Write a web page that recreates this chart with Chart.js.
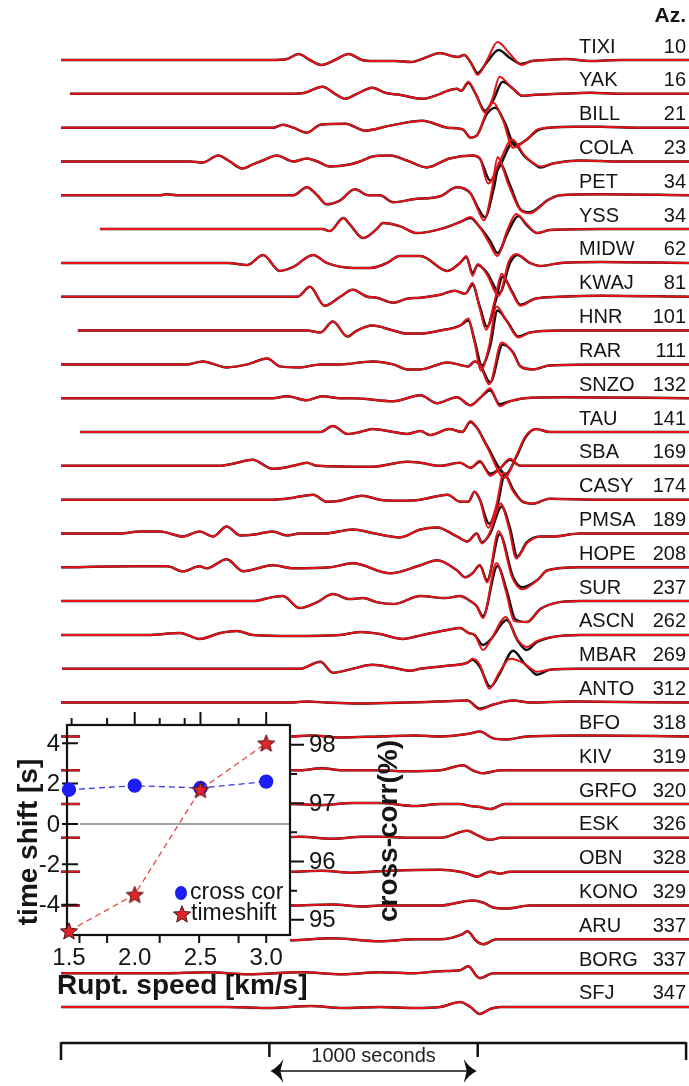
<!DOCTYPE html>
<html><head><meta charset="utf-8">
<script src="https://cdn.jsdelivr.net/npm/chart.js@4.4.0/dist/chart.umd.min.js"></script>
<style>
html,body{margin:0;padding:0;background:#fff;}
#wrap{position:relative;width:689px;height:1086px;overflow:hidden;background:#fff;}
#main{position:absolute;left:0;top:0;}
#inset{position:absolute;left:0;top:700px;}
</style></head><body>
<div id="wrap"><canvas id="main" width="689" height="1086"></canvas><canvas id="inset" width="420" height="310"></canvas></div>
<script>
// ---------------- DATA ----------------
const stations = ["TIXI","YAK","BILL","COLA","PET","YSS","MIDW","KWAJ","HNR","RAR","SNZO","TAU","SBA","CASY","PMSA","HOPE","SUR","ASCN","MBAR","ANTO","BFO","KIV","GRFO","ESK","OBN","KONO","ARU","BORG","SFJ"];
const azimuths = [10,16,21,23,34,34,62,81,101,111,132,141,169,174,189,208,237,262,269,312,318,319,320,326,328,329,337,337,347];
const scaleTicks = [0,1000,2000,3000]; // seconds

// observed (black) traces: [time s, amplitude]
const TIXI_obs=[[0,0],[1005,0],[1085,1],[1140,6],[1195,0],[1250,-5],[1315,0],[1380,6],[1445,0],[1500,-1],[1605,-1],[1680,-2],[1745,2],[1820,7],[1875,4],[1905,3],[1935,5],[1965,-2],[2000,-13],[2045,-2],[2100,10],[2155,2],[2210,-4],[2260,-1],[2325,0],[2420,1],[2540,-1],[2685,0],[3014,0]];
const YAK_obs=[[43,0],[1100,0],[1170,1],[1255,7],[1315,0],[1365,-5],[1420,0],[1495,6],[1555,1],[1625,-1],[1735,-5],[1820,0],[1855,3],[1900,5],[1920,3],[1955,11],[1990,0],[2035,-17],[2075,-6],[2120,12],[2170,5],[2215,-2],[2275,-1],[2395,0],[2540,1],[2685,0],[3014,0]];
const BILL_obs=[[0,0],[1020,0],[1065,3],[1115,0],[1180,-5],[1245,3],[1365,4],[1460,-3],[1580,2],[1735,7],[1855,0],[1930,-2],[1965,-10],[1995,-8],[2045,14],[2085,20],[2130,5],[2180,-18],[2235,-12],[2285,-3],[2345,0],[2470,1],[2590,1],[2780,0],[3014,0]];
const COLA_obs=[[0,0],[620,0],[680,-1],[755,6],[810,0],[870,-7],[920,-3],[980,2],[1035,6],[1115,0],[1180,3],[1230,0],[1290,-5],[1385,-3],[1435,0],[1495,5],[1580,6],[1660,1],[1755,-6],[1865,3],[1975,6],[2010,3],[2060,-19],[2105,-5],[2170,19],[2225,5],[2275,-3],[2300,-6],[2360,-2],[2490,1],[2685,0],[3014,0]];
const PET_obs=[[0,0],[475,0],[510,1],[560,0],[1050,0],[1115,0],[1180,8],[1230,0],[1275,-9],[1340,-5],[1410,6],[1475,0],[1530,0],[1595,-7],[1690,-4],[1820,-1],[1900,8],[1965,2],[2000,-12],[2035,-22],[2075,5],[2105,32],[2155,10],[2205,-14],[2250,-17],[2335,-5],[2395,0],[2590,1],[3014,0]];
const YSS_obs=[[187,0],[1145,0],[1255,0],[1290,-2],[1355,11],[1385,5],[1450,-9],[1515,0],[1545,6],[1625,3],[1710,-4],[1820,0],[1915,7],[1965,11],[2010,2],[2060,-12],[2095,-24],[2145,-3],[2195,13],[2235,4],[2285,-4],[2345,-1],[2590,0],[3014,0]];
const MIDW_obs=[[0,0],[800,0],[895,-2],[970,8],[1050,-8],[1115,-4],[1210,8],[1275,0],[1400,-5],[1485,-5],[1565,0],[1625,7],[1725,7],[1855,-8],[1915,0],[1945,6],[1975,-10],[2000,-2],[2045,-10],[2105,-30],[2155,0],[2190,8],[2250,0],[2300,-3],[2400,0],[2590,1],[3014,0]];
const KWAJ_obs=[[0,0],[1065,0],[1135,0],[1195,10],[1265,-9],[1340,0],[1400,7],[1470,0],[1515,-1],[1595,-6],[1660,-2],[1725,-1],[1820,2],[1890,6],[1940,3],[1975,12],[2010,-10],[2045,-30],[2085,-5],[2120,20],[2165,5],[2205,-8],[2275,-2],[2395,0],[2590,1],[3014,0]];
const HNR_obs=[[81,0],[1180,0],[1245,-2],[1305,9],[1375,-6],[1420,0],[1495,5],[1595,0],[1660,-3],[1725,-3],[1820,0],[1915,5],[1955,10],[1985,-10],[2020,-35],[2060,-15],[2095,20],[2145,8],[2195,-6],[2250,-2],[2395,0],[3014,0]];
const RAR_obs=[[0,0],[605,0],[680,3],[795,-3],[895,0],[990,6],[1050,-2],[1145,-3],[1245,0],[1340,0],[1495,3],[1595,0],[1660,-5],[1725,-5],[1855,2],[1955,-2],[1985,3],[2010,0],[2060,-18],[2120,20],[2170,12],[2205,-2],[2265,-5],[2345,-1],[2590,0],[3014,0]];
const SNZO_obs=[[0,0],[1015,0],[1085,2],[1180,-2],[1255,2],[1340,0],[1400,0],[1595,-3],[1725,3],[1805,-5],[1900,1],[1965,-7],[2010,0],[2060,8],[2105,-6],[2155,-3],[2225,0],[2400,1],[3014,0]];
const TAU_obs=[[91,0],[1245,0],[1305,6],[1375,-2],[1435,0],[1495,3],[1595,0],[1660,-2],[1725,1],[1770,-3],[1865,3],[1925,0],[1965,10],[2000,3],[2045,-14],[2135,-42],[2185,-25],[2230,-5],[2280,3],[2345,0],[3014,0]];
const SBA_obs=[[0,0],[760,0],[825,2],[920,6],[1015,-3],[1115,0],[1180,3],[1230,0],[1495,-1],[1660,4],[1725,3],[1820,0],[1915,3],[1965,-2],[2010,4],[2060,-8],[2105,-3],[2155,6],[2205,0],[2300,0],[3014,0]];
const CASY_obs=[[0,0],[1015,0],[1115,2],[1210,5],[1275,-2],[1340,-1],[1445,4],[1530,0],[1625,-1],[1725,0],[1855,5],[1915,-2],[1955,-2],[1985,8],[2010,0],[2055,-24],[2095,-5],[2130,25],[2170,10],[2215,-2],[2265,-4],[2345,1],[2590,0],[3014,0]];
const PMSA_obs=[[0,0],[280,0],[380,2],[475,2],[585,-3],[665,2],[730,-3],[795,7],[860,-2],[930,-1],[1015,2],[1085,-2],[1145,0],[1265,0],[1400,4],[1505,0],[1625,-4],[1725,4],[1805,6],[1900,-3],[1950,-8],[1995,0],[2020,-9],[2060,0],[2115,27],[2155,5],[2190,-23],[2235,-9],[2300,-3],[2360,-3],[2490,0],[3014,0]];
const HOPE_obs=[[0,0],[345,1],[510,1],[585,-4],[665,1],[700,-1],[795,8],[875,-4],[1015,2],[1115,-1],[1290,0],[1400,4],[1580,-6],[1725,2],[1805,7],[1900,-3],[1940,-10],[1975,-6],[2010,2],[2045,-13],[2105,33],[2170,-10],[2215,-20],[2285,-13],[2335,-3],[2490,0],[3014,0]];
const SUR_obs=[[0,0],[920,0],[1015,4],[1065,5],[1145,-7],[1230,-1],[1305,7],[1385,2],[1450,3],[1515,-1],[1595,-3],[1725,5],[1845,3],[1915,5],[1965,0],[1995,-5],[2025,-15],[2095,35],[2140,10],[2180,-18],[2235,-21],[2300,-8],[2370,-2],[2490,0],[3014,0]];
const ASCN_obs=[[0,0],[415,0],[570,2],[665,-4],[765,2],[845,4],[920,0],[1115,-1],[1340,0],[1435,3],[1530,1],[1640,-4],[1735,0],[1855,5],[1915,7],[1955,2],[1985,0],[2025,-10],[2060,-5],[2140,15],[2190,-5],[2235,-15],[2285,-7],[2360,-2],[2490,0],[3014,0]];
const MBAR_obs=[[5,0],[1015,0],[1145,0],[1245,7],[1305,-4],[1400,0],[1495,4],[1595,1],[1675,-2],[1725,0],[1855,3],[1950,6],[1975,9],[2010,2],[2060,-18],[2105,-5],[2170,18],[2225,5],[2250,0],[2285,-6],[2345,-1],[2490,0],[3014,0]];
const ANTO_obs=[[0,0],[1100,0],[1180,1],[1275,0],[1435,-1],[1660,0],[1805,1],[1950,2],[2010,-6],[2075,-2],[2170,2],[2250,0],[2450,1],[3014,0]];
const BFO_obs=[[0,0],[1100,0],[1200,1],[1340,-1],[1530,0],[1700,1],[1820,0],[1965,3],[2010,5],[2075,-2],[2140,-3],[2235,0],[2500,1],[3014,0]];
const KIV_obs=[[0,0],[1150,0],[1250,2],[1350,0],[1530,0],[1650,-1],[1820,0],[1930,5],[1975,0],[2025,-3],[2110,0],[2300,0],[3014,0]];
const GRFO_obs=[[0,0],[1100,0],[1250,-1],[1400,1],[1530,1],[1700,-2],[1820,0],[1915,0],[1965,-2],[2010,-3],[2060,-5],[2130,0],[2350,0],[3014,0]];
const ESK_obs=[[0,0],[1000,0],[1150,1],[1300,-1],[1450,1],[1530,1],[1680,0],[1820,0],[1950,7],[1995,3],[2060,-2],[2110,0],[3014,0]];
const OBN_obs=[[0,0],[1100,0],[1250,1],[1400,-1],[1580,1],[1820,2],[1915,0],[1965,-3],[1995,-5],[2060,0],[2105,-2],[2155,0],[3014,0]];
const KONO_obs=[[0,0],[1100,0],[1300,1],[1450,-1],[1530,0],[1820,0],[1975,5],[2025,3],[2075,-2],[2140,-3],[2250,0],[3014,0]];
const ARU_obs=[[0,0],[900,0],[1100,-1],[1300,1],[1530,-2],[1700,0],[1820,0],[1925,5],[1950,8],[1995,-2],[2025,-5],[2090,0],[3014,0]];
const BORG_obs=[[0,0],[500,0],[700,1],[900,-1],[1150,1],[1350,-1],[1530,1],[1700,0],[1820,2],[1915,3],[1955,7],[1995,-3],[2010,-5],[2075,0],[2300,0],[3014,0]];
const SFJ_obs=[[0,0],[800,0],[1000,-1],[1200,1],[1350,-1],[1530,0],[1700,-1],[1820,0],[1915,5],[1965,0],[2010,-7],[2060,-2],[2110,0],[3014,0]];

// synthetic (red) traces where they differ from the observed ones
const TIXI_syn=[[1935,5],[1965,-2],[2000,-15],[2045,0],[2095,18],[2155,6],[2210,-5],[2260,-1]];
const YAK_syn=[[1920,3],[1955,12],[1990,0],[2035,-19],[2070,-5],[2105,17],[2155,8],[2215,-2],[2275,-1]];
const BILL_syn=[[1995,-8],[2045,17],[2075,25],[2120,8],[2170,-20],[2235,-12],[2285,-2]];
const COLA_syn=[[2010,3],[2050,-22],[2105,0],[2165,22],[2225,6],[2275,-3],[2300,-5]];
const PET_syn=[[1965,2],[2000,-14],[2030,-25],[2070,8],[2095,38],[2145,12],[2205,-15],[2250,-18],[2335,-5]];
const YSS_syn=[[1965,12],[2010,2],[2055,-14],[2095,-27],[2140,-2],[2185,15],[2235,5],[2285,-4]];
const MIDW_syn=[[1945,7],[1975,-13],[2000,-1],[2045,-12],[2100,-33],[2150,2],[2185,9],[2250,0]];
const KWAJ_syn=[[1940,3],[1975,14],[2010,-12],[2040,-33],[2080,-5],[2115,23],[2160,6],[2205,-9],[2275,-2]];
const HNR_syn=[[1915,5],[1955,12],[1985,-12],[2015,-40],[2055,-15],[2090,24],[2140,9],[2195,-7],[2250,-2]];
const RAR_syn=[[1985,3],[2010,0],[2055,-20],[2115,22],[2165,13],[2205,-2],[2265,-5]];
const SNZO_syn=[[1965,-7],[2010,0],[2060,10],[2105,-8],[2155,-3]];
const TAU_syn=[[1965,11],[2000,3],[2045,-15],[2130,-46],[2180,-26],[2230,-4],[2280,3]];
const SBA_syn=[[1965,-2],[2010,5],[2060,-10],[2105,-3],[2155,7],[2205,0]];
const CASY_syn=[[1985,8],[2010,0],[2050,-28],[2090,-5],[2125,27],[2165,10],[2215,-2],[2265,-4]];
const PMSA_syn=[[1995,0],[2020,-10],[2060,2],[2110,30],[2150,5],[2185,-25],[2235,-10],[2300,-3]];
const HOPE_syn=[[2010,2],[2045,-15],[2100,36],[2165,-10],[2215,-22],[2285,-13],[2335,-3]];
const SUR_syn=[[1995,-5],[2025,-17],[2090,38],[2135,10],[2175,-20],[2235,-21],[2300,-8]];
const ASCN_syn=[[1985,0],[2025,-15],[2060,-6],[2135,18],[2185,-3],[2235,-12],[2285,-6]];
const MBAR_syn=[[1975,10],[2010,4],[2055,-20],[2105,-3],[2155,10],[2225,5],[2250,1],[2285,-3]];
const ANTO_syn=[[1950,2],[2010,-7],[2075,-2],[2170,2],[2250,0]];

const observed=[TIXI_obs,YAK_obs,BILL_obs,COLA_obs,PET_obs,YSS_obs,MIDW_obs,KWAJ_obs,HNR_obs,RAR_obs,SNZO_obs,TAU_obs,SBA_obs,CASY_obs,PMSA_obs,HOPE_obs,SUR_obs,ASCN_obs,MBAR_obs,ANTO_obs,BFO_obs,KIV_obs,GRFO_obs,ESK_obs,OBN_obs,KONO_obs,ARU_obs,BORG_obs,SFJ_obs];
const synthetic=[TIXI_syn,YAK_syn,BILL_syn,COLA_syn,PET_syn,YSS_syn,MIDW_syn,KWAJ_syn,HNR_syn,RAR_syn,SNZO_syn,TAU_syn,SBA_syn,CASY_syn,PMSA_syn,HOPE_syn,SUR_syn,ASCN_syn,MBAR_syn,ANTO_syn,[],[],[],[],[],[],[],[],[]];

// inset data
const ruptSpeed = [1.5, 2.0, 2.5, 3.0];
const timeShift = [-5.3, -3.5, 1.7, 4.0];
const crossCorr = [97.23, 97.30, 97.26, 97.37];
const timeShiftTicks = [4, 2, 0, -2, -4];
const crossCorrTicks = [98, 97, 96, 95];
const crossCorrMinor = [97.5, 96.5, 95.5];
const speedLabels = [1.5, 2.0, 2.5, 3.0];
const speedTopMajor = [2.0, 2.5, 3.0];
const speedTopMinor = [1.52, 1.79, 2.19, 2.38, 2.79];
const speedBottomTicks = [1.58, 1.79, 2.19, 2.49, 2.79, 3.0];

// ---------------- MAIN CHART ----------------
const SPACING = 33.82;
const FONT = '"Liberation Sans", Arial, Helvetica, sans-serif';
const datasets = [];
stations.forEach((name, i) => {
  const off = -i * SPACING;
  const obs = observed[i];
  const win = synthetic[i];
  let syn = obs;
  if (win.length) {
    const t0 = win[0][0], t1 = win[win.length - 1][0];
    syn = obs.filter(p => p[0] < t0).concat(win, obs.filter(p => p[0] > t1));
  }
  datasets.push({ label: name + ' syn', data: syn.map(p => ({ x: p[0], y: off + p[1] })),
    borderColor: '#e61218', borderWidth: 2.0, order: 0 });
  datasets.push({ label: name + ' obs', data: obs.map(p => ({ x: p[0], y: off + p[1] })),
    borderColor: '#111111', borderWidth: 2.5, order: 1 });
});

const mainDeco = {
  id: 'mainDeco',
  beforeDraw(c) { const g = c.ctx; g.save(); g.fillStyle = '#fff'; g.fillRect(0, 0, c.width, c.height); g.restore(); },
  afterDraw(c) {
    const g = c.ctx, xs = c.scales.x, ys = c.scales.y;
    g.save();
    g.fillStyle = '#151515';
    g.textBaseline = 'middle';
    g.font = 'bold 21px ' + FONT; g.textAlign = 'right';
    g.fillText('Az.', 686, 16);
    g.font = '20px ' + FONT;
    stations.forEach((n, i) => {
      const yb = ys.getPixelForValue(-i * SPACING) - 13;
      g.textAlign = 'left'; g.fillText(n, 579, yb);
      g.textAlign = 'right'; g.fillText(String(azimuths[i]), 686, yb);
    });
    // scale bar
    const by = 1043;
    const px = scaleTicks.map(v => xs.getPixelForValue(v));
    g.strokeStyle = '#111'; g.lineWidth = 2.5;
    g.beginPath();
    g.moveTo(px[0], by); g.lineTo(px[3], by);
    px.forEach((p, k) => { g.moveTo(p, by - 1); g.lineTo(p, by + (k === 0 || k === 3 ? 17 : 14)); });
    g.stroke();
    g.font = '20px ' + FONT; g.textAlign = 'center'; g.fillStyle = '#222';
    g.fillText('1000 seconds', (px[1] + px[2]) / 2, 1056);
    const ay = 1071;
    g.lineWidth = 1.5;
    g.beginPath(); g.moveTo(px[1] + 6, ay); g.lineTo(px[2] - 6, ay); g.stroke();
    g.fillStyle = '#111';
    const head = (tip, dir) => {
      g.beginPath(); g.moveTo(tip, ay);
      g.quadraticCurveTo(tip + dir * 8, ay - 4, tip + dir * 13, ay - 12);
      g.lineTo(tip + dir * 10, ay);
      g.lineTo(tip + dir * 13, ay + 12);
      g.quadraticCurveTo(tip + dir * 8, ay + 4, tip, ay);
      g.fill();
    };
    head(px[1] + 1, 1); head(px[2] - 1, -1);
    g.restore();
  }
};

new Chart(document.getElementById('main'), {
  type: 'line',
  data: { datasets },
  options: {
    responsive: false, animation: false, devicePixelRatio: 1,
    layout: { padding: { left: 61, right: 0, top: 0, bottom: 0 } },
    scales: {
      x: { type: 'linear', min: 0, max: 3014, display: false },
      y: { type: 'linear', min: -1026, max: 60, display: false }
    },
    elements: { point: { radius: 0 }, line: { cubicInterpolationMode: 'monotone', capBezierPoints: true } },
    plugins: { legend: { display: false }, tooltip: { enabled: false } }
  },
  plugins: [mainDeco]
});

// ---------------- INSET ----------------
function makeStar() {
  const c = document.createElement('canvas'); c.width = 20; c.height = 20;
  const g = c.getContext('2d');
  g.beginPath();
  for (let k = 0; k < 10; k++) {
    const r = k % 2 ? 3.9 : 9, a = -Math.PI / 2 + k * Math.PI / 5;
    g.lineTo(10 + r * Math.cos(a), 10.8 + r * Math.sin(a));
  }
  g.closePath(); g.fillStyle = '#e2252a'; g.fill();
  g.strokeStyle = '#4a0c0c'; g.lineWidth = 1; g.stroke();
  return c;
}
const starImg = makeStar();

const insetDeco = {
  id: 'insetDeco',
  beforeDatasetsDraw(c) {
    const g = c.ctx, a = c.chartArea, x = c.scales.x, y = c.scales.y, y1 = c.scales.y1;
    g.save();
    g.fillStyle = '#fff';
    g.fillRect(80, a.top - 2, a.right - 80, a.bottom - a.top + 2);
    g.fillRect(58, a.bottom, a.right - 58, 12);
    // zero line
    g.strokeStyle = '#808080'; g.lineWidth = 1.5;
    g.beginPath(); g.moveTo(80, y.getPixelForValue(0)); g.lineTo(a.right, y.getPixelForValue(0)); g.stroke();
    // frame
    g.strokeStyle = '#111'; g.lineWidth = 2.2;
    g.strokeRect(a.left, a.top, a.right - a.left, a.bottom - a.top);
    g.lineWidth = 2;
    g.beginPath();
    timeShiftTicks.forEach(v => { const p = y.getPixelForValue(v); g.moveTo(62, p); g.lineTo(78, p); });
    crossCorrTicks.forEach(v => { const p = y1.getPixelForValue(v); g.moveTo(a.right, p); g.lineTo(a.right + 14, p); });
    crossCorrMinor.forEach(v => { const p = y1.getPixelForValue(v); g.moveTo(a.right, p); g.lineTo(a.right + 7, p); });
    speedTopMajor.forEach(v => { const p = x.getPixelForValue(v); g.moveTo(p, a.top); g.lineTo(p, a.top - 13); });
    speedTopMinor.forEach(v => { const p = x.getPixelForValue(v); g.moveTo(p, a.top); g.lineTo(p, a.top - 7); });
    speedBottomTicks.forEach(v => { const p = x.getPixelForValue(v); g.moveTo(p, a.bottom); g.lineTo(p, a.bottom + 8); });
    g.stroke();
    g.restore();
  },
  afterDraw(c) {
    const g = c.ctx, a = c.chartArea, x = c.scales.x, y = c.scales.y, y1 = c.scales.y1;
    g.save();
    g.fillStyle = '#151515';
    g.textBaseline = 'middle';
    g.font = '24px ' + FONT;
    g.textAlign = 'right';
    timeShiftTicks.forEach(v => g.fillText(String(v), 60, y.getPixelForValue(v) + 1));
    g.textAlign = 'left';
    crossCorrTicks.forEach(v => g.fillText(String(v), 309, y1.getPixelForValue(v) + 1));
    g.textAlign = 'center';
    speedLabels.forEach(v => g.fillText(v.toFixed(1), x.getPixelForValue(v), 258));
    g.font = 'bold 28px ' + FONT;
    g.save(); g.translate(29, 142); g.rotate(-Math.PI / 2); g.fillText('time shift [s]', 0, 0); g.restore();
    g.save(); g.translate(389, 131); g.rotate(-Math.PI / 2); g.fillText('cross-corr(%)', 0, 0); g.restore();
    g.textAlign = 'left';
    g.fillText('Rupt. speed [km/s]', 57, 286);
    // legend
    g.font = '23px ' + FONT;
    g.fillStyle = '#1c1cf5';
    g.beginPath(); g.ellipse(181, 193, 6, 7, 0, 0, Math.PI * 2); g.fill();
    g.drawImage(starImg, 172, 204);
    g.fillStyle = '#151515';
    g.fillText('cross cor', 190, 193);
    g.fillText('timeshift', 191, 214);
    g.restore();
  }
};

new Chart(document.getElementById('inset'), {
  type: 'line',
  data: {
    datasets: [
      { label: 'timeshift', data: ruptSpeed.map((s, k) => ({ x: s, y: timeShift[k] })), yAxisID: 'y',
        borderColor: '#e24a42', borderWidth: 1.3, borderDash: [6, 4], pointStyle: starImg, pointRadius: 9, clip: false },
      { label: 'cross cor', data: ruptSpeed.map((s, k) => ({ x: s, y: crossCorr[k] })), yAxisID: 'y1',
        borderColor: '#3a3ae8', borderWidth: 1.3, borderDash: [6, 4], pointStyle: 'circle', pointRadius: 6.5,
        pointBackgroundColor: '#1c1cf5', pointBorderColor: '#1c1cf5', clip: false }
    ]
  },
  options: {
    responsive: false, animation: false, devicePixelRatio: 1,
    layout: { padding: { left: 67, right: 130, top: 25, bottom: 75 } },
    scales: {
      x: { type: 'linear', min: 1.485, max: 3.181, display: false },
      y: { type: 'linear', min: -5.5, max: 4.9, display: false },
      y1: { type: 'linear', position: 'right', min: 94.74, max: 98.34, display: false }
    },
    elements: { line: { tension: 0 } },
    plugins: { legend: { display: false }, tooltip: { enabled: false } }
  },
  plugins: [insetDeco]
});
</script>
</body></html>
